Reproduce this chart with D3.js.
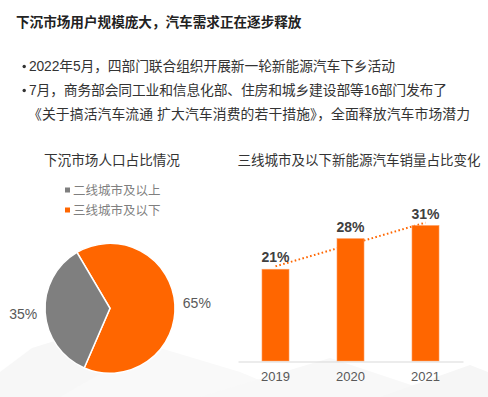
<!DOCTYPE html>
<html><head><meta charset="utf-8">
<script src="https://cdn.jsdelivr.net/npm/d3@7"></script>
<style>
html,body{margin:0;padding:0;background:#fff;}
svg{display:block;font-family:"Liberation Sans","Noto Sans CJK SC",sans-serif;}
</style></head>
<body><svg id="c" width="488" height="397"></svg>
<script>
const mainTitle = "下沉市场用户规模庞大，汽车需求正在逐步释放";
const bullets = [
  ["2022年5月，四部门联合组织开展新一轮新能源汽车下乡活动"],
  ["7月，商务部会同工业和信息化部、住房和城乡建设部等16部门发布了",
   "《关于搞活汽车流通 扩大汽车消费的若干措施》，全面释放汽车市场潜力"]
];
const pieTitle = "下沉市场人口占比情况";
const pieCategories = ["三线城市及以下", "二线城市及以上"];
const pieValues = [65, 35];
const legendOrder = ["二线城市及以上", "三线城市及以下"];
const barTitle = "三线城市及以下新能源汽车销量占比变化";
const years = ["2019", "2020", "2021"];
const shareValues = [21, 28, 31];

const ORANGE = "#ff6600", GRAY = "#7f7f7f";
const color = d3.scaleOrdinal().domain(pieCategories).range([ORANGE, GRAY]);
const svg = d3.select("#c");

// faint decorative background polygons
const bg = svg.append("g");
[[[0,397],[0,372],[32,348],[90,330],[160,397]],
 [[60,397],[150,345],[240,372],[300,397]],
 [[200,397],[330,358],[420,388],[430,397]],
 [[380,397],[470,365],[488,372],[488,397]]].forEach((p,i)=>{
  bg.append("polygon").attr("points", p.map(d=>d.join(",")).join(" "))
    .attr("fill", ["#f7f7f7","#f9f9f9","#f8f8f8","#f6f6f6"][i]);
});

const CJK = "'Noto Sans CJK SC','Liberation Sans',sans-serif";
svg.append("text").attr("x", 16).attr("y", 26.5).attr("font-size", 13.6)
  .attr("font-weight", "bold").attr("fill", "#222").style("font-family", CJK).text(mainTitle);

const lineEnds = [395, 447, 470];
let ly = 71, li = 0;
bullets.forEach(lines => {
  svg.append("circle").attr("cx", 24.2).attr("cy", ly - 4.5).attr("r", 1.7).attr("fill", "#333");
  lines.forEach((t,i) => {
    const x0 = i === 0 ? 29 : 28;
    svg.append("text").attr("x", x0).attr("y", ly).attr("font-size", 13.8)
      .attr("fill", "#333").attr("textLength", lineEnds[li] - x0)
      .attr("lengthAdjust", "spacing").text(t);
    ly += 24; li++;
  });
});

// ---- Pie ----
svg.append("text").attr("x", 112).attr("y", 165).attr("text-anchor", "middle")
  .attr("font-size", 13.6).attr("fill", "#333").style("font-family", CJK).text(pieTitle);

const lg = svg.append("g");
legendOrder.forEach((c,i) => {
  const y = 190 + i*20;
  lg.append("rect").attr("x", 65).attr("y", y - 2.5).attr("width", 5).attr("height", 5).attr("fill", color(c));
  lg.append("text").attr("x", 73).attr("y", y + 4.5).attr("font-size", 12.5)
    .attr("fill", "#7f7f7f").style("font-family", CJK).text(c);
});

const cx = 110, cy = 308.3, R = 65;
const startA = -30.6 * Math.PI / 180;
const pie = d3.pie().sort(null).value(d => d).startAngle(startA).endAngle(startA + 2*Math.PI);
const arcs = pie(pieValues);
const arc = d3.arc().innerRadius(0).outerRadius(R);
const labelArc = d3.arc().innerRadius(87).outerRadius(87);
const pg = svg.append("g").attr("transform", `translate(${cx},${cy})`);
pg.selectAll("path").data(arcs).join("path")
  .attr("d", arc).attr("fill", (d,i) => color(pieCategories[i]))
  .attr("stroke", "#fff").attr("stroke-width", 1.5);
pg.selectAll("text").data(arcs).join("text")
  .attr("transform", d => `translate(${labelArc.centroid(d)})`)
  .attr("text-anchor", "middle").attr("dy", "0.36em")
  .attr("font-size", 14).attr("fill", "#595959").text(d => d.data + "%");

// ---- Bars ----
svg.append("text").attr("x", 359).attr("y", 165).attr("text-anchor", "middle")
  .attr("font-size", 13.5).attr("fill", "#333").style("font-family", CJK).text(barTitle);

const x = d3.scaleBand().domain(years).range([238, 463]).paddingInner(0.64).paddingOuter(0.32);
const y = d3.scaleLinear().domain([0, 35]).range([361, 361 - 35*4.37]);

// trend line (linear regression of values)
const n = shareValues.length;
const xs = d3.range(n);
const mx = d3.mean(xs), my = d3.mean(shareValues);
const slope = d3.sum(xs, (v,i) => (v-mx)*(shareValues[i]-my)) / d3.sum(xs, v => (v-mx)*(v-mx));
const icpt = my - slope*mx;
const cxp = yr => x(yr) + x.bandwidth()/2;
svg.append("line")
  .attr("x1", cxp(years[0])).attr("y1", y(icpt))
  .attr("x2", cxp(years[n-1])).attr("y2", y(icpt + slope*(n-1)))
  .attr("stroke", ORANGE).attr("stroke-width", 2).attr("stroke-dasharray", "1.6 2.4");

svg.append("g").selectAll("rect").data(shareValues).join("rect")
  .attr("x", (d,i) => x(years[i])).attr("width", x.bandwidth())
  .attr("y", d => y(d)).attr("height", d => y(0) - y(d))
  .attr("fill", ORANGE).attr("stroke", "#ff9a5c").attr("stroke-width", 0.6);

svg.append("g").selectAll("text").data(shareValues).join("text")
  .attr("x", (d,i) => cxp(years[i])).attr("y", d => y(d) - 7)
  .attr("text-anchor", "middle").attr("font-size", 14).attr("font-weight", "bold")
  .attr("fill", "#404040").text(d => d + "%");

const ax = svg.append("g").attr("transform", "translate(0,361.5)")
  .call(d3.axisBottom(x).tickSize(0).tickPadding(10));
ax.select(".domain").attr("stroke", "#d9d9d9").attr("stroke-width", 1);
ax.selectAll("text").attr("font-size", 13).attr("fill", "#595959")
  .style("font-family", "'Liberation Sans',sans-serif");
</script></body></html>
